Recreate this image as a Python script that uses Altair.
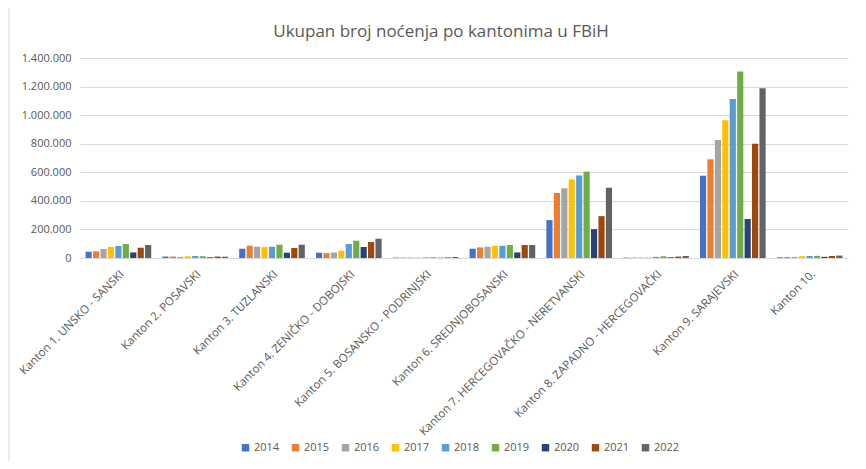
import altair as alt
import pandas as pd

cantons = [
    "Kanton 1. UNSKO - SANSKI",
    "Kanton 2. POSAVSKI",
    "Kanton 3. TUZLANSKI",
    "Kanton 4. ZENIČKO - DOBOJSKI",
    "Kanton 5. BOSANSKO - PODRINJSKI",
    "Kanton 6. SREDNJOBOSANSKI",
    "Kanton 7. HERCEGOVAČKO - NERETVANSKI",
    "Kanton 8. ZAPADNO - HERCEGOVAČKI",
    "Kanton 9. SARAJEVSKI",
    "Kanton 10.",
]
years = ["2014", "2015", "2016", "2017", "2018", "2019", "2020", "2021", "2022"]

# values per year, in canton order
v2014 = [44000, 10000, 65000, 37000, 3000, 65000, 265000, 3000, 576000, 5000]
v2015 = [47000, 10000, 86000, 34000, 3000, 74000, 455000, 3000, 691000, 7000]
v2016 = [63000, 8000, 79000, 39000, 3000, 79000, 488000, 3000, 826000, 8000]
v2017 = [77000, 12000, 76000, 51000, 3000, 86000, 551000, 4000, 964000, 13000]
v2018 = [84000, 14000, 79000, 98000, 4000, 86000, 578000, 8000, 1113000, 14000]
v2019 = [98000, 12000, 93000, 121000, 5000, 91000, 605000, 12000, 1306000, 15000]
v2020 = [39000, 5000, 37000, 77000, 2000, 39000, 202000, 5000, 273000, 8000]
v2021 = [72000, 10000, 70000, 112000, 4000, 91000, 293000, 10000, 800000, 14000]
v2022 = [91000, 9000, 93000, 135000, 7000, 91000, 492000, 14000, 1188000, 17000]

series = [v2014, v2015, v2016, v2017, v2018, v2019, v2020, v2021, v2022]
colors = ["#4472C4", "#ED7D31", "#A5A5A5", "#FFC000", "#5B9BD5",
          "#70AD47", "#264478", "#9E480E", "#636363"]

rows = []
for y, vals in zip(years, series):
    for c, v in zip(cantons, vals):
        rows.append({"Kanton": c, "Godina": y, "Noćenja": v})
df = pd.DataFrame(rows)

label_expr = "replace(format(datum.value, ','), regexp(',', 'g'), '.')"

bars = alt.Chart(df).mark_bar().encode(
    x=alt.X("Kanton:N", sort=cantons, title=None,
            scale=alt.Scale(paddingInner=0.145, paddingOuter=0.0725),
            axis=alt.Axis(labelAngle=-45, labelFontSize=11.5, labelColor="#595959",
                          labelFont="Open Sans", ticks=False, domain=True,
                          domainColor="#D9D9D9", labelPadding=10, labelLimit=300,
                          grid=False)),
    xOffset=alt.XOffset("Godina:N", sort=years,
                        scale=alt.Scale(paddingInner=0.17)),
    y=alt.Y("Noćenja:Q", title=None,
            scale=alt.Scale(domain=[0, 1400000], nice=False),
            axis=alt.Axis(values=[0, 200000, 400000, 600000, 800000, 1000000, 1200000, 1400000],
                          labelExpr=label_expr, labelFontSize=11, labelColor="#595959",
                          labelFont="Open Sans", ticks=False, domain=False,
                          gridColor="#D9D9D9", gridWidth=1, labelPadding=9)),
    color=alt.Color("Godina:N", sort=years,
                    scale=alt.Scale(domain=years, range=colors),
                    legend=alt.Legend(title=None, orient="none", direction="horizontal",
                                      legendX=160, legendY=384, symbolType="square",
                                      symbolSize=55, symbolStrokeWidth=0,
                                      labelFontSize=11, labelColor="#595959",
                                      labelFont="Open Sans", columnPadding=10,
                                      labelOffset=3)),
)

frame_df = pd.DataFrame({"k": [0]})
top_line = alt.Chart(frame_df).mark_rule(color="#D9D9D9", strokeWidth=1).encode(
    x=alt.value(-71), x2=alt.value(800), y=alt.value(-52))
left_line = alt.Chart(frame_df).mark_rule(color="#D9D9D9", strokeWidth=1).encode(
    x=alt.value(-71), y=alt.value(-52), y2=alt.value(420))

chart = alt.layer(bars, top_line, left_line).properties(
    width=768,
    height=200,
    title=alt.TitleParams("Ukupan broj noćenja po kantonima u FBiH", fontSize=17,
                          font="Open Sans", fontWeight="normal", color="#595959",
                          anchor="middle", dx=-23, dy=52, offset=17),
    padding={"left": 72, "top": 50, "right": 10, "bottom": 203},
    autosize=alt.AutoSizeParams(type="none"),
).configure_view(stroke=None)

chart.save("out.html", embed_options={"renderer": "svg", "actions": False})
